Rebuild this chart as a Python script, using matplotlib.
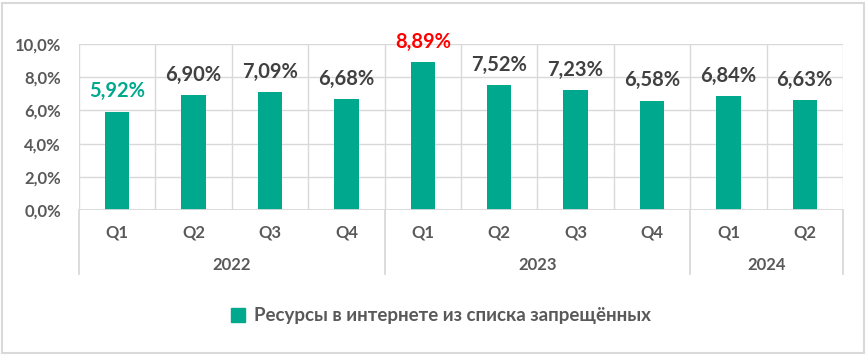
import matplotlib.pyplot as plt
from matplotlib.patches import Patch

plt.rcParams['font.family'] = ['Lato', 'DejaVu Sans']

quarters = ['Q1', 'Q2', 'Q3', 'Q4', 'Q1', 'Q2', 'Q3', 'Q4', 'Q1', 'Q2']
years = ['2022', '2023', '2024']
year_counts = [4, 4, 2]
values = [5.92, 6.90, 7.09, 6.68, 8.89, 7.52, 7.23, 6.58, 6.84, 6.63]
label_colors = ['#00A88E', '#404040', '#404040', '#404040', '#FF0000',
                '#404040', '#404040', '#404040', '#404040', '#404040']

bar_color = '#00A88E'
grid_color = '#D9D9D9'
tick_color = '#595959'

fig = plt.figure(figsize=(8.67, 3.55), dpi=100)
ax = fig.add_axes([79/867, 1 - 210/355, (843 - 79)/867, (210 - 44)/355])

x = list(range(len(values)))
ax.bar(x, values, width=0.32, color=bar_color, zorder=3)

for xi, v, c in zip(x, values, label_colors):
    ax.annotate('{:.2f}%'.format(v).replace('.', ','), (xi, v),
                xytext=(0, 7.5), textcoords='offset points',
                ha='center', va='bottom', fontsize=14.5, fontweight='bold',
                color=c)

ax.set_xlim(-0.5, len(values) - 0.5)
ax.set_ylim(0, 10)
ax.set_yticks(range(0, 11, 2))
ax.set_yticklabels(['{:.1f}%'.format(t).replace('.', ',') for t in range(0, 11, 2)])
ax.tick_params(axis='y', length=0, pad=13, labelsize=12, labelcolor=tick_color)
for lab in ax.get_yticklabels():
    lab.set_fontweight('bold')

ax.set_xticks([])
for s in ax.spines.values():
    s.set_visible(False)

for t in range(2, 11, 2):
    ax.axhline(t, color=grid_color, lw=1, zorder=1)
ax.axhline(0, color=grid_color, lw=1.3, zorder=4)
for b in range(len(values) + 1):
    ax.plot([b - 0.5, b - 0.5], [0, 10], color=grid_color, lw=1, zorder=1)

trans = ax.get_xaxis_transform()
px = 1 / 166
for xi, q in zip(x, quarters):
    ax.text(xi, -22 * px, q, transform=trans, ha='center', va='center',
            fontsize=12, fontweight='bold', color=tick_color)

start = 0
bounds = [-0.5]
for yr, n in zip(years, year_counts):
    ax.text(start + (n - 1) / 2, -55 * px, yr, transform=trans, ha='center',
            va='center', fontsize=12, fontweight='bold', color=tick_color)
    start += n
    bounds.append(start - 0.5)
for b in bounds:
    ax.plot([b, b], [0, -64 * px], transform=trans, color=grid_color, lw=1.3,
            clip_on=False)

handle = Patch(color=bar_color)
fig.legend([handle], ['Ресурсы в интернете из списка запрещённых'],
           loc='center', bbox_to_anchor=(441/867, 1 - 316/355), frameon=False,
           handlelength=0.75, handleheight=0.75, handletextpad=0.45,
           prop={'size': 13.5, 'weight': 'bold'}, labelcolor=tick_color)

fig.patches.append(plt.Rectangle((2/867, 2/355), 862/867, 350/355,
                                 transform=fig.transFigure, fill=False,
                                 edgecolor='#D9D9D9', lw=1.5))

fig.savefig('out.png', dpi=100)
